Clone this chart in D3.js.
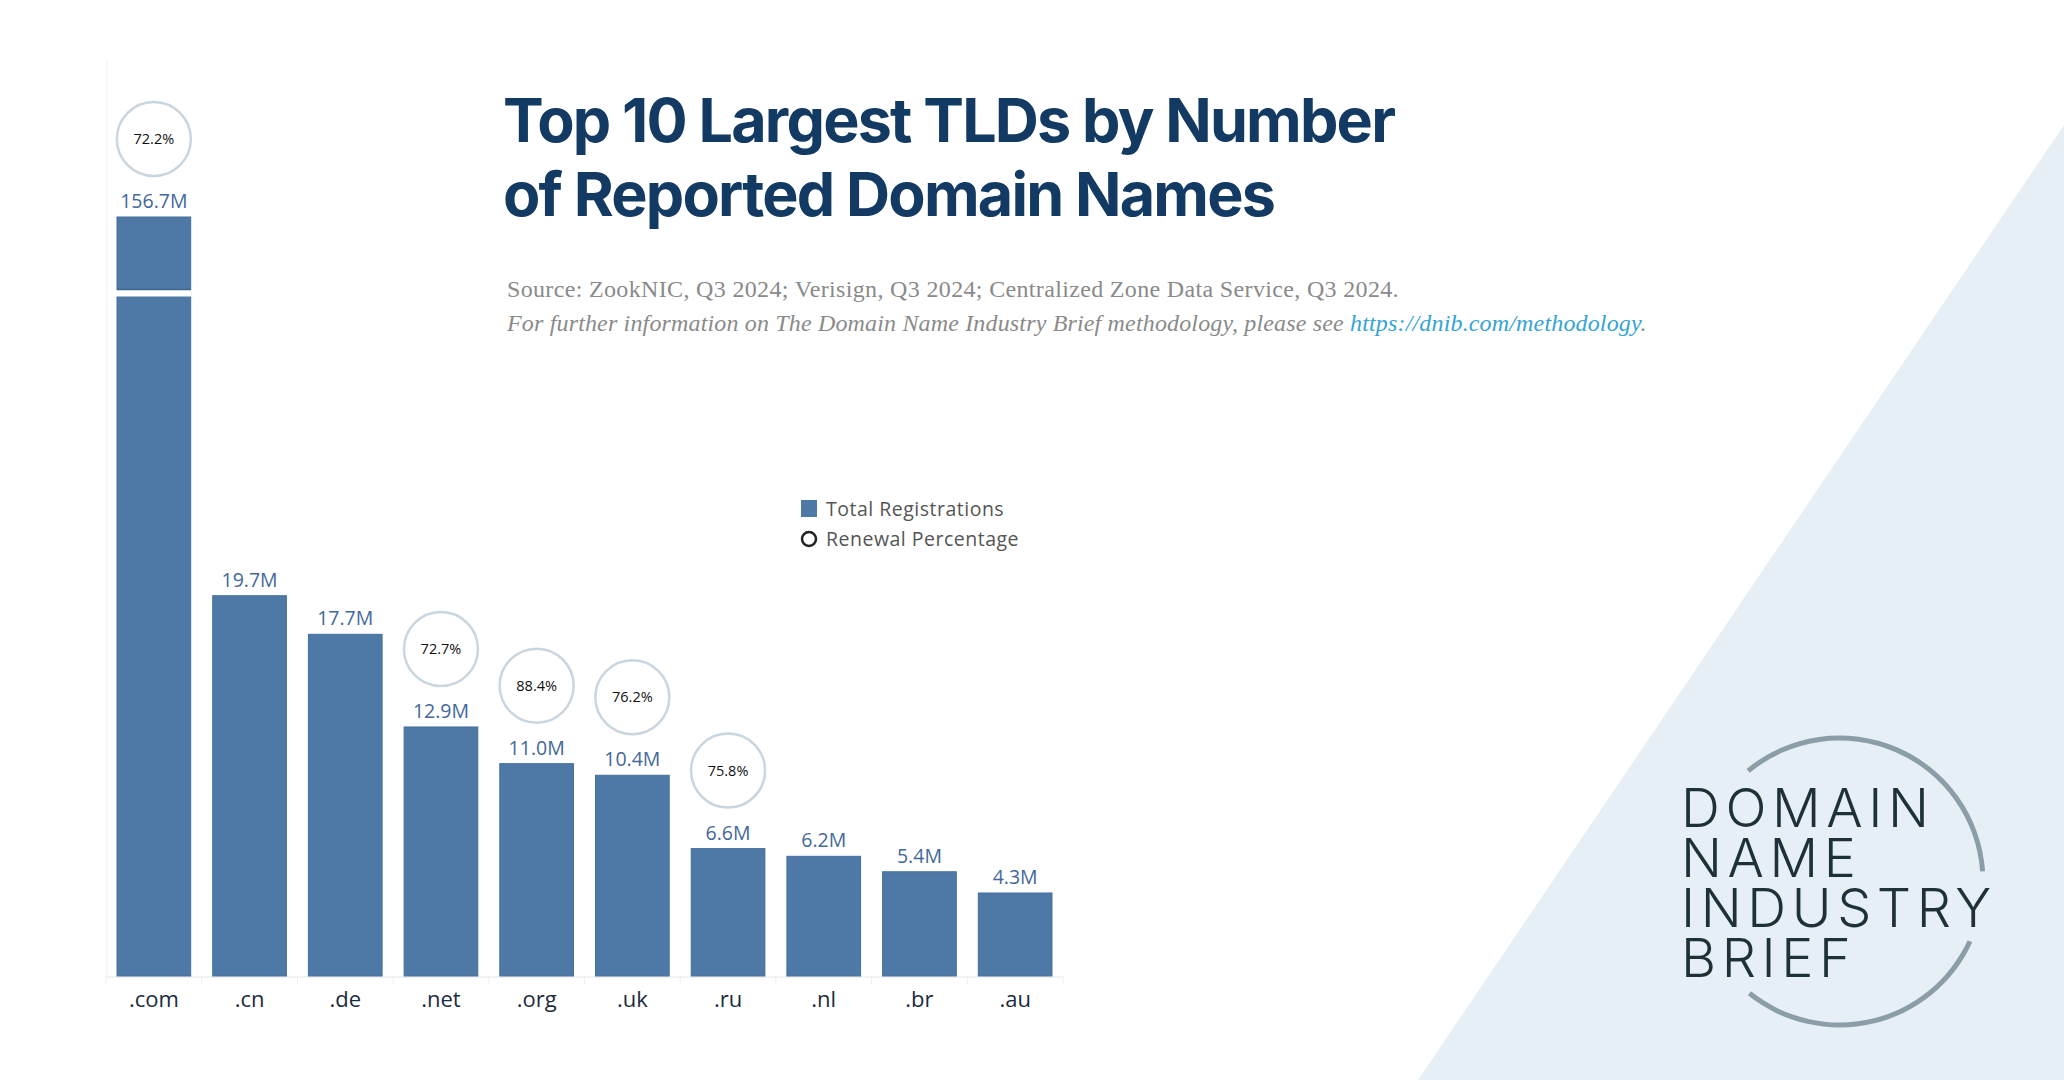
<!DOCTYPE html>
<html>
<head>
<meta charset="utf-8">
<style>
  body { margin: 0; background: #fff; }
  svg { display: block; }
  .title { font-family: 'Inter', 'Roboto', sans-serif; font-weight: 700; fill: #123a62; }
  .source { font-family: 'Liberation Serif', 'DejaVu Serif', serif; fill: #8a8a8a; }
  .barlabel { font-family: 'Open Sans', sans-serif; fill: #43689a; }
  .pct { font-family: 'Open Sans', sans-serif; fill: #111; }
  .legend text { font-family: 'Open Sans', sans-serif; fill: #555; }
  .xaxis text { font-family: 'Open Sans', sans-serif; fill: #1b2b3c; }
  .logo text { font-family: 'Inter', 'Roboto', sans-serif; font-weight: 300; fill: #1e3038; }
</style>
</head>
<body>
<svg width="2064" height="1080"></svg>

<script src="https://d3js.org/d3.v7.min.js"></script>
<script>
  // data
  const tlds = [".com", ".cn", ".de", ".net", ".org", ".uk", ".ru", ".nl", ".br", ".au"];
  const registrations = [156.7, 19.7, 17.7, 12.9, 11.0, 10.4, 6.6, 6.2, 5.4, 4.3]; // millions
  const renewalPct = [72.2, null, null, 72.7, 88.4, 76.2, 75.8, null, null, null];
  const titleLines = ["Top 10 Largest TLDs by Number", "of Reported Domain Names"];
  const legendItems = ["Total Registrations", "Renewal Percentage"];
  const logoLines = ["DOMAIN", "NAME", "INDUSTRY", "BRIEF"];

  let data = tlds.map((t, i) => ({ tld: t, reg: registrations[i], pct: renewalPct[i] }));

  let width = 2064;
  let height = 1080;
  let svg = d3.select("svg");

  // light blue corner triangle in the background
  svg.append("path")
    .attr("d", `M${width},125 L1418,${height} L${width},${height} Z`)
    .style("fill", "#e7eff6");

  // scales
  let x = d3.scaleBand()
    .domain(tlds)
    .range([106, 1063])
    .paddingInner(0.23)
    .paddingOuter(0.115);

  // broken axis: linear up to the break, then squeezed so .com fits
  let breakValue = 35.2;
  let y = d3.scaleLinear()
    .domain([0, breakValue, d3.max(registrations)])
    .range([976, 296.5, 217]);

  // faint left rule
  svg.append("line")
    .attr("x1", 107).attr("x2", 107)
    .attr("y1", 60).attr("y2", y(0))
    .style("stroke", "#f1f1f1")
    .style("stroke-width", 1);

  // x axis
  let xAxis = svg.append("g")
    .attr("class", "xaxis")
    .attr("transform", `translate(0,${y(0) + 0.5})`)
    .call(d3.axisBottom(x).tickSize(0).tickPadding(15));
  xAxis.select(".domain").style("stroke", "#e6e6e6");
  xAxis.selectAll("text").style("font-size", "22px");

  // band separators under the axis
  let sepX = tlds.map(t => x(t) - x.step() * x.paddingInner() / 2).concat([x.range()[1]]);
  svg.append("g")
    .selectAll("line")
    .data(sepX)
    .join("line")
    .attr("x1", d => d).attr("x2", d => d)
    .attr("y1", y(0)).attr("y2", y(0) + 8)
    .style("stroke", "#eeeeee");

  // bars
  svg.append("g")
    .selectAll("rect")
    .data(data)
    .join("rect")
    .attr("x", d => x(d.tld))
    .attr("y", d => y(d.reg))
    .attr("width", x.bandwidth())
    .attr("height", d => y(0) - y(d.reg))
    .style("fill", "#4e78a6")
    .style("stroke", "#44709e")
    .style("stroke-width", 1);

  // white break across bars taller than the break value
  let broken = data.filter(d => d.reg > breakValue);
  svg.append("g")
    .selectAll("rect")
    .data(broken)
    .join("rect")
    .attr("x", d => x(d.tld) - 1)
    .attr("y", y(breakValue) - 6.5)
    .attr("width", x.bandwidth() + 2)
    .attr("height", 6.5)
    .style("fill", "#fff");
  svg.append("g")
    .selectAll("line")
    .data(broken)
    .join("line")
    .attr("x1", d => x(d.tld)).attr("x2", d => x(d.tld) + x.bandwidth())
    .attr("y1", y(breakValue) - 7).attr("y2", y(breakValue) - 7)
    .style("stroke", "#3d6592")
    .style("stroke-width", 1.5);

  // value labels
  svg.append("g")
    .selectAll("text")
    .data(data)
    .join("text")
    .attr("class", "barlabel")
    .attr("x", d => x(d.tld) + x.bandwidth() / 2)
    .attr("y", d => y(d.reg) - 9)
    .attr("text-anchor", "middle")
    .style("font-size", "19.5px")
    .text(d => d3.format(".1f")(d.reg) + "M");

  // renewal circles
  let withPct = data.filter(d => d.pct != null);
  let circles = svg.append("g")
    .selectAll("g")
    .data(withPct)
    .join("g")
    .attr("transform", d => `translate(${x(d.tld) + x.bandwidth() / 2},${y(d.reg) - 78})`);
  circles.append("circle")
    .attr("r", 37)
    .style("fill", "#fff")
    .style("stroke", "#c9d5df")
    .style("stroke-width", 2.5);
  circles.append("text")
    .attr("class", "pct")
    .attr("text-anchor", "middle")
    .attr("dy", "0.35em")
    .style("font-size", "14.5px")
    .text(d => d3.format(".1f")(d.pct) + "%");

  // title
  svg.append("g")
    .selectAll("text")
    .data(titleLines)
    .join("text")
    .attr("class", "title")
    .attr("x", 503)
    .attr("y", (d, i) => 142 + i * 74)
    .style("font-size", "61px")
    .style("letter-spacing", "-1.8px")
    .text(d => d);

  // source lines
  svg.append("text")
    .attr("class", "source")
    .attr("x", 507)
    .attr("y", 297)
    .style("font-size", "24px")
    .style("letter-spacing", "0.34px")
    .text("Source: ZookNIC, Q3 2024; Verisign, Q3 2024; Centralized Zone Data Service, Q3 2024.");

  let note = svg.append("text")
    .attr("class", "source")
    .attr("x", 507)
    .attr("y", 331)
    .style("font-size", "24px")
    .style("letter-spacing", "0.16px")
    .style("font-style", "italic");
  note.append("tspan").text("For further information on The Domain Name Industry Brief methodology, please see ");
  note.append("tspan").style("fill", "#35a3d6").text("https://dnib.com/methodology");
  note.append("tspan").text(".");

  // legend
  let legend = svg.append("g").attr("class", "legend");
  legend.append("rect")
    .attr("x", 801).attr("y", 500)
    .attr("width", 16).attr("height", 17)
    .style("fill", "#4e78a6");
  legend.append("circle")
    .attr("cx", 809).attr("cy", 539)
    .attr("r", 7)
    .style("fill", "none")
    .style("stroke", "#222")
    .style("stroke-width", 2.5);
  legend.selectAll("text")
    .data(legendItems)
    .join("text")
    .attr("x", 826)
    .attr("y", (d, i) => 516 + i * 30)
    .style("font-size", "19.5px")
    .style("letter-spacing", "0.5px")
    .text(d => d);

  // logo
  let logo = svg.append("g").attr("class", "logo");
  let arc = d3.arc().innerRadius(141).outerRadius(146);
  [[-0.69, 1.50], [2.0, 3.82]].forEach(a => {
    logo.append("path")
      .attr("transform", "translate(1839.5,881.5)")
      .attr("d", arc({ startAngle: a[0], endAngle: a[1] }))
      .style("fill", "#8b9ea7");
  });
  logo.selectAll("text")
    .data(logoLines)
    .join("text")
    .attr("x", 1681)
    .attr("y", (d, i) => 827 + i * 50)
    .style("font-size", "54px")
    .style("letter-spacing", "5.6px")
    .text(d => d);
</script>
</body>
</html>
